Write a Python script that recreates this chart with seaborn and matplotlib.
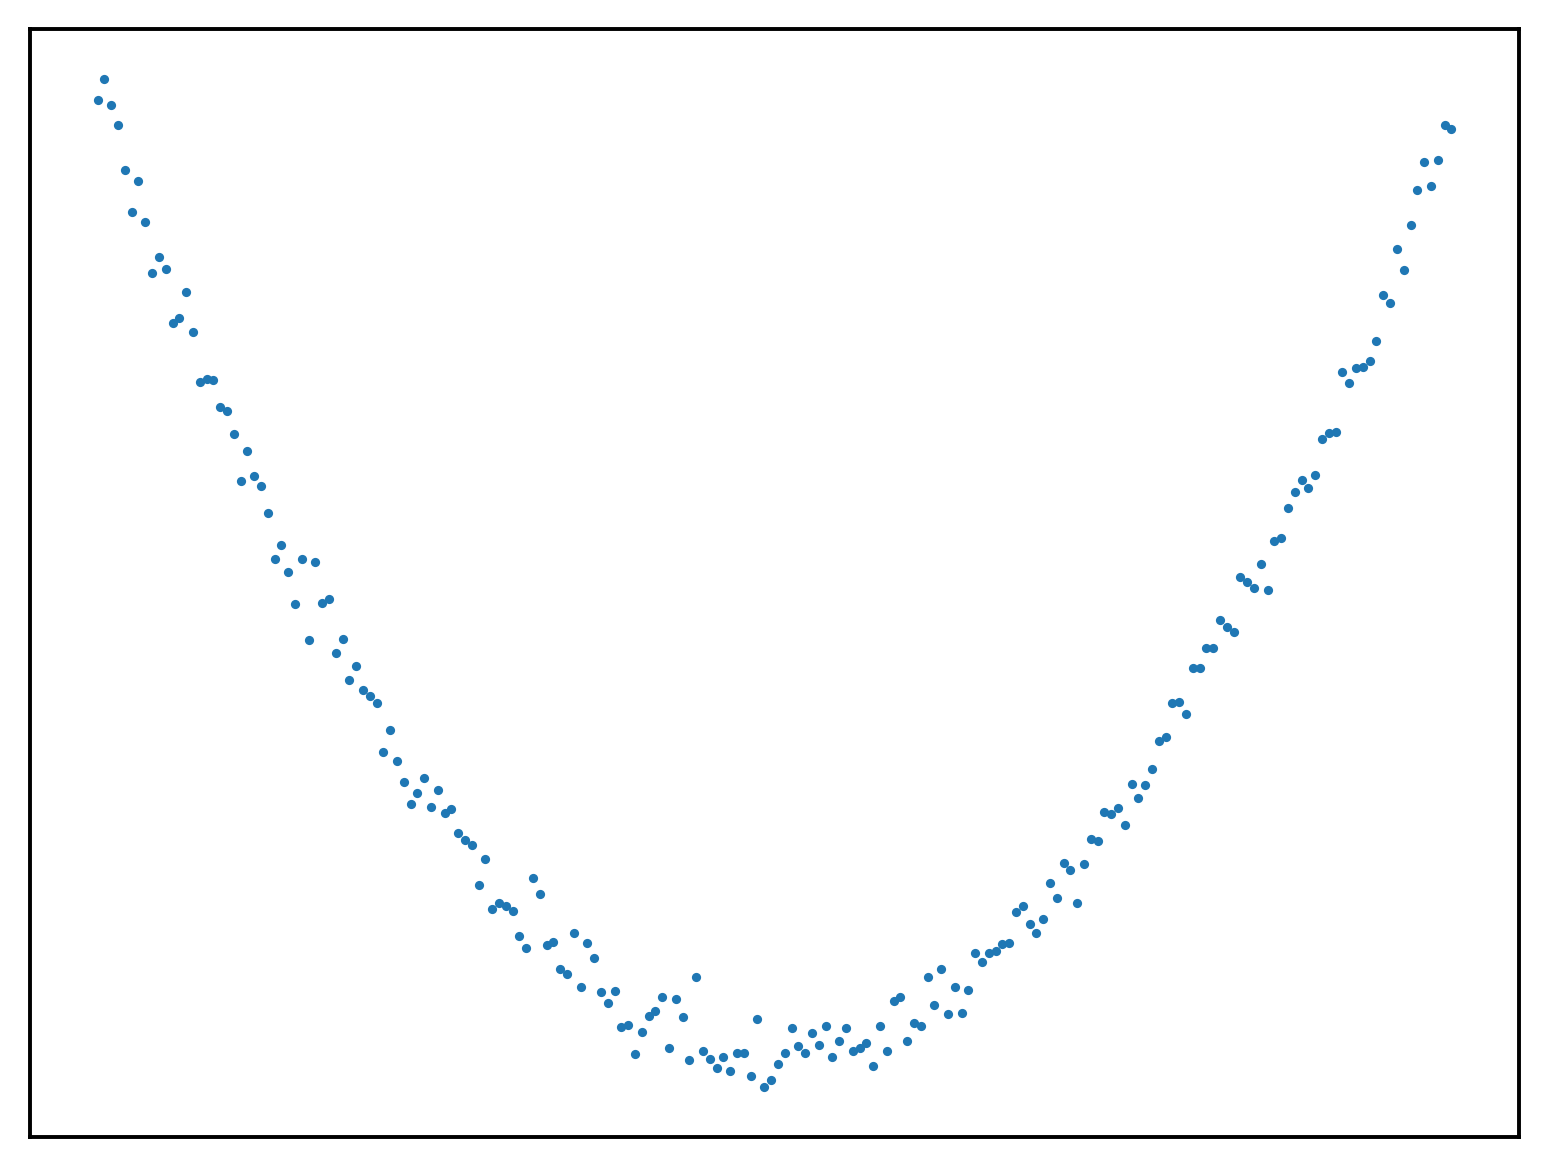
import numpy as np
import pandas as pd
import seaborn as sns
import matplotlib
import matplotlib.pyplot as plt

matplotlib.use('Agg')

# y values, left to right (evenly spaced samples)
y_left = [9.89, 10.10, 9.84, 9.64, 9.19, 8.77, 9.08, 8.67, 8.16, 8.32,
          8.20, 7.66, 7.71, 7.97, 7.57, 7.07, 7.10, 7.09, 6.82, 6.78,
          6.55, 6.08, 6.38, 6.13, 6.03, 5.76, 5.30, 5.44, 5.17, 4.85,
          5.30, 4.49, 5.27, 4.86, 4.90, 4.36, 4.50, 4.09, 4.23, 3.99,
          3.93, 3.86, 3.37, 3.59, 3.28, 3.07, 2.85, 2.96, 3.11, 2.82,
          2.99, 2.76, 2.80, 2.56, 2.49, 2.44, 2.04, 2.30, 1.80, 1.86,
          1.83, 1.78, 1.53, 1.41, 2.11, 1.95, 1.44]
y_mid = [1.47, 1.20, 1.15, 1.56, 1.02, 1.46, 1.31, 0.97, 0.86, 0.98,
         0.62, 0.64, 0.35, 0.57, 0.73, 0.78, 0.92, 0.41, 0.90, 0.72,
         0.29, 1.12, 0.38, 0.30, 0.21, 0.32, 0.18, 0.36, 0.36, 0.13,
         0.70, 0.02, 0.09, 0.25, 0.36, 0.61, 0.43, 0.36, 0.56, 0.44,
         0.63, 0.32, 0.48, 0.61, 0.38, 0.41, 0.46, 0.23, 0.63, 0.38,
         0.88, 0.92, 0.48, 0.66, 0.63, 1.12, 0.84, 1.20, 0.75, 1.02,
         0.76, 0.99, 1.36, 1.27, 1.36, 1.38]
y_right = [1.45, 1.46, 1.77, 1.83, 1.65, 1.56, 1.70, 2.06, 1.91, 2.26,
           2.19, 1.86, 2.25, 2.50, 2.48, 2.77, 2.75, 2.81, 2.64, 3.05,
           2.91, 3.04, 3.20, 3.48, 3.52, 3.86, 3.87, 3.75, 4.21, 4.21,
           4.41, 4.41, 4.69, 4.62, 4.57, 5.12, 5.07, 5.01, 5.25, 4.99,
           5.48, 5.51, 5.81, 5.97, 6.09, 6.01, 6.14, 6.50, 6.56, 6.57,
           7.17, 7.06, 7.21, 7.22, 7.28, 7.48, 7.94, 7.86, 8.40, 8.19,
           8.64, 8.99, 9.27, 9.03, 9.29, 9.64, 9.60]

y = y_left + y_mid + y_right
df = pd.DataFrame({'x': np.arange(len(y)), 'y': y})

fig = plt.figure(figsize=(7.74, 5.84), dpi=200)
ax = fig.add_axes([30 / 1548, 1 - 1137 / 1168, 1489 / 1548, 1108 / 1168])
sns.scatterplot(data=df, x='x', y='y', ax=ax, color='#1f77b4', s=11, linewidth=0)

ax.set_xticks([])
ax.set_yticks([])
ax.set_xlabel('')
ax.set_ylabel('')
for sp in ax.spines.values():
    sp.set_linewidth(1.4)
    sp.set_color('black')

fig.savefig('out.png', dpi=200)
